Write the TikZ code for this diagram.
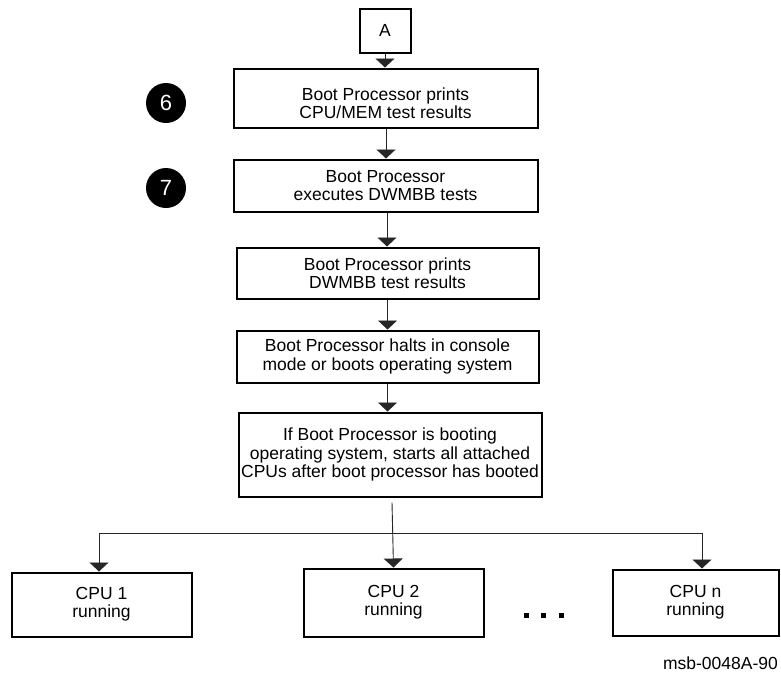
\documentclass[tikz,border=0pt]{standalone}
\usepackage{fontspec}
\setmainfont{Liberation Sans}
\usetikzlibrary{arrows.meta,calc}

\tikzset{
  stepbox/.style={draw=black, line width=2pt, inner sep=0pt, align=center,
    font=\fontsize{17.5}{18.3}\selectfont},
  conn/.style={draw=black!85, line width=0.9pt, -{Triangle[width=19pt,length=9pt]}},
  marker/.style={circle, fill=black, minimum size=40pt, inner sep=0pt,
    text=white, font=\fontsize{22}{22}\selectfont},
  plain/.style={inner sep=0pt, align=center, font=\fontsize{17.5}{18.3}\selectfont}
}

\begin{document}
\begin{tikzpicture}[x=1pt, y=-1pt]
  \useasboundingbox[fill=white] (0,0) rectangle (781,675);

  % entry connector
  \node[stepbox, minimum width=51pt, minimum height=44pt] (A) at (385,30.5) {A};

  % main sequence
  \node[stepbox, minimum width=304pt, minimum height=59pt] (b1) at (385.5,98) {};
  \node[plain] (b1t) at (385.5,103) {Boot Processor prints\\CPU/MEM test results};
  \node[stepbox, minimum width=304pt, minimum height=52pt] (b2) at (385.5,185.5)
    {Boot Processor\\executes DWMBB tests};
  \node[stepbox, minimum width=302pt, minimum height=51pt] (b3) at (387.5,273)
    {Boot Processor prints\\DWMBB test results};
  \node[stepbox, minimum width=302pt, minimum height=52pt] (b4) at (387.5,356.5)
    {Boot Processor halts in console\\mode or boots operating system};
  \node[stepbox, minimum width=303pt, minimum height=84pt] (b5) at (390,454.5)
    {If Boot Processor is booting\\operating system, starts all attached\\CPUs after boot processor has booted};

  % step markers
  \node[marker] (m6) at (166,103) {6};
  \node[marker] (m7) at (166,188) {7};

  % processors
  \node[stepbox, minimum width=180pt, minimum height=64pt] (cpu1) at (101.5,604.5)
    {CPU 1\\running};
  \node[stepbox, minimum width=180pt, minimum height=68pt] (cpu2) at (393.5,602.5)
    {CPU 2\\running};
  \node[stepbox, minimum width=166pt, minimum height=66pt] (cpun) at (695.5,602.5)
    {CPU n\\running};

  % ellipsis between CPU 2 and CPU n
  \foreach \dx in {526,543,561}
    \fill[black] (\dx-2.5,612.5) rectangle (\dx+2.5,617.5);

  % figure id
  \node[plain, anchor=east] (fig) at (778,663) {msb-0048A-90};

  % connectors
  \draw[conn] (A.south) -- (A.south |- b1.north);
  \draw[conn] ([xshift=0.5pt]b1.south) -- ([xshift=0.5pt]b1.south |- b2.north);
  \draw[conn] ([xshift=1.5pt]b2.south) -- ([xshift=1.5pt]b2.south |- b3.north);
  \draw[conn] (b3.south) -- (b3.south |- b4.north);
  \draw[conn] (b4.south) -- (b4.south |- b5.north);
  \draw[conn] ([xshift=2pt,yshift=-5pt]b5.south) -- (cpu2.north);

  \coordinate (bus) at (393,533);
  \draw[conn] (bus) -| ([xshift=-2.5pt]cpu1.north);
  \draw[conn] (bus) -| ([xshift=6.5pt]cpun.north);
\end{tikzpicture}
\end{document}
